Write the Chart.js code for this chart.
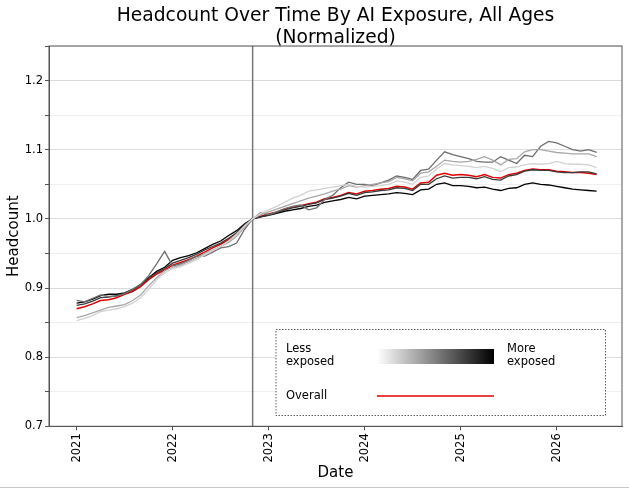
<!DOCTYPE html>
<html>
<head>
<meta charset="utf-8">
<script src="https://cdn.jsdelivr.net/npm/chart.js@4"></script>
<style>
  html, body { margin: 0; padding: 0; background: #fff; }
  #wrap { width: 629px; height: 488px; position: relative; }
  #edge { position: absolute; left: 0; bottom: 0; width: 629px; height: 1px; background: #c8c8c8; }
</style>
</head>
<body>
<div id="wrap">
  <canvas id="grafico" width="629" height="488"></canvas>
  <div id="edge"></div>
</div>
<script>
// meses de 2021-01 a 2026-06, em anos decimais
const inicio = 2021;
const numMeses = 66;
const meses = Array.from({length: numMeses}, (_, i) => inicio + i / 12);
const anosTicks = [2021, 2022, 2023, 2024, 2025, 2026];
const marcoChatGPT = 2021 + 22 / 12; // nov 2022

// do menos exposto ao mais exposto
const expostoQ1 = [0.853,0.856,0.860,0.866,0.868,0.870,0.873,0.878,0.886,0.898,0.912,0.922,
  0.928,0.931,0.936,0.941,0.948,0.954,0.960,0.968,0.978,0.990,
  1.000,1.008,1.013,1.018,1.024,1.030,1.034,1.040,1.042,1.044,1.046,1.048,1.050,1.047,
  1.046,1.047,1.048,1.050,1.055,1.053,1.050,1.060,1.062,1.072,1.080,1.078,
  1.077,1.076,1.074,1.076,1.073,1.068,1.074,1.075,1.078,1.080,1.079,1.080,
  1.083,1.080,1.079,1.079,1.078,1.074];
const expostoQ2 = [0.857,0.860,0.864,0.868,0.872,0.874,0.876,0.882,0.890,0.903,0.915,0.925,
  0.930,0.933,0.938,0.943,0.950,0.955,0.960,0.966,0.975,0.988,
  1.000,1.006,1.010,1.014,1.018,1.022,1.026,1.030,1.033,1.036,1.040,1.043,1.048,1.046,
  1.048,1.050,1.052,1.054,1.060,1.058,1.055,1.066,1.068,1.076,1.085,1.083,
  1.082,1.083,1.086,1.090,1.085,1.078,1.086,1.087,1.097,1.100,1.100,1.098,
  1.096,1.095,1.094,1.094,1.094,1.090];
const expostoQ3 = [0.882,0.880,0.885,0.890,0.888,0.888,0.892,0.898,0.905,0.918,0.935,0.953,
  0.932,0.935,0.940,0.946,0.946,0.952,0.958,0.960,0.965,0.985,
  1.000,1.009,1.006,1.010,1.015,1.018,1.020,1.013,1.016,1.028,1.034,1.045,1.053,1.050,
  1.050,1.048,1.052,1.056,1.062,1.060,1.057,1.070,1.072,1.085,1.097,1.093,
  1.090,1.087,1.083,1.082,1.082,1.090,1.085,1.080,1.092,1.090,1.105,1.112,
  1.110,1.105,1.100,1.098,1.100,1.096];
const expostoQ4 = [0.875,0.877,0.881,0.886,0.887,0.889,0.892,0.897,0.904,0.914,0.922,0.928,
  0.936,0.940,0.944,0.949,0.955,0.960,0.965,0.972,0.980,0.992,
  1.000,1.003,1.006,1.009,1.013,1.016,1.018,1.021,1.023,1.028,1.030,1.033,1.037,1.034,
  1.038,1.039,1.041,1.042,1.045,1.044,1.041,1.050,1.050,1.058,1.062,1.059,
  1.060,1.060,1.058,1.061,1.057,1.056,1.062,1.064,1.069,1.071,1.070,1.070,
  1.068,1.067,1.067,1.068,1.068,1.065];
const expostoQ5 = [0.878,0.880,0.884,0.889,0.891,0.891,0.893,0.898,0.905,0.915,0.924,0.930,
  0.940,0.944,0.947,0.951,0.957,0.963,0.968,0.976,0.983,0.993,
  1.000,1.003,1.005,1.008,1.011,1.013,1.015,1.018,1.020,1.024,1.026,1.028,1.031,1.029,
  1.033,1.034,1.035,1.036,1.038,1.037,1.035,1.042,1.043,1.050,1.052,1.048,
  1.048,1.047,1.045,1.046,1.043,1.041,1.044,1.045,1.050,1.052,1.050,1.049,
  1.047,1.045,1.043,1.042,1.041,1.040];
const geral = [0.870,0.873,0.877,0.882,0.883,0.886,0.891,0.895,0.902,0.912,0.920,0.926,
  0.933,0.937,0.941,0.946,0.952,0.958,0.963,0.970,0.979,0.991,
  1.000,1.004,1.007,1.010,1.014,1.017,1.019,1.022,1.024,1.029,1.031,1.034,1.038,1.036,
  1.040,1.041,1.043,1.044,1.047,1.046,1.043,1.052,1.053,1.063,1.066,1.063,
  1.064,1.063,1.061,1.064,1.060,1.059,1.064,1.066,1.070,1.072,1.071,1.071,
  1.069,1.068,1.067,1.067,1.066,1.064];

const series = [expostoQ1, expostoQ2, expostoQ3, expostoQ4, expostoQ5];
const coresCinza = ['#d2d2d2', '#a8a8a8', '#6e6e6e', '#3a3a3a', '#000000'];

const FONTE = 'DejaVu Sans';

const datasets = series.map((s, k) => ({
    data: s.map((v, i) => ({x: meses[i], y: v})),
    borderColor: coresCinza[k],
    borderWidth: 1.3,
    pointRadius: 0,
    tension: 0,
    fill: false
}));
datasets.push({
    data: geral.map((v, i) => ({x: meses[i], y: v})),
    borderColor: '#e00000',
    borderWidth: 1.5,
    pointRadius: 0,
    tension: 0,
    fill: false
});

// moldura, linha vertical, titulo e legenda
const extras = {
    id: 'extras',
    beforeDatasetsDraw(chart) {
        const {ctx, chartArea: a, scales: {x}} = chart;
        const px = x.getPixelForValue(marcoChatGPT);
        ctx.save();
        ctx.strokeStyle = '#777';
        ctx.lineWidth = 1.5;
        ctx.beginPath();
        ctx.moveTo(px, a.top);
        ctx.lineTo(px, a.bottom);
        ctx.stroke();
        ctx.restore();
    },
    afterDraw(chart) {
        const {ctx, chartArea: a} = chart;
        ctx.save();
        ctx.strokeStyle = '#555';
        ctx.lineWidth = 1;
        ctx.strokeRect(a.left, a.top, a.right - a.left, a.bottom - a.top);

        const cx = (a.left + a.right) / 2;
        ctx.fillStyle = '#000';
        ctx.font = '18.7px "' + FONTE + '"';
        ctx.textAlign = 'center';
        ctx.textBaseline = 'alphabetic';
        ctx.fillText('Headcount Over Time By AI Exposure, All Ages', cx, 21);
        ctx.fillText('(Normalized)', cx, 43);

        // legenda
        ctx.fillStyle = '#fff';
        ctx.fillRect(276, 329.5, 329.5, 86);
        ctx.setLineDash([1.5, 1.5]);
        ctx.strokeStyle = '#333';
        ctx.lineWidth = 0.8;
        ctx.strokeRect(276, 329.5, 329.5, 86);
        ctx.setLineDash([]);

        ctx.fillStyle = '#000';
        ctx.font = '11.5px "' + FONTE + '"';
        ctx.textAlign = 'left';
        ctx.textBaseline = 'middle';
        ctx.fillText('Less', 286, 349);
        ctx.fillText('exposed', 286, 362);
        ctx.fillText('More', 507, 349);
        ctx.fillText('exposed', 507, 362);
        ctx.fillText('Overall', 286, 396);

        const g = ctx.createLinearGradient(377, 0, 494, 0);
        g.addColorStop(0, '#ffffff');
        g.addColorStop(1, '#000000');
        ctx.fillStyle = g;
        ctx.fillRect(377, 349, 117, 15);

        ctx.strokeStyle = '#e00000';
        ctx.lineWidth = 1.5;
        ctx.beginPath();
        ctx.moveTo(377, 396);
        ctx.lineTo(494, 396);
        ctx.stroke();
        ctx.restore();
    }
};

const ehMaior = v => Math.abs(v * 10 - Math.round(v * 10)) < 1e-6;

new Chart(document.getElementById('grafico'), {
    type: 'line',
    data: {datasets: datasets},
    options: {
        responsive: false,
        animation: false,
        events: [],
        layout: {padding: {top: 46, right: 7, left: 0, bottom: 0}},
        plugins: {
            legend: {display: false},
            tooltip: {enabled: false},
            title: {display: false}
        },
        scales: {
            x: {
                type: 'linear',
                min: 2020.712,
                max: 2026.681,
                afterBuildTicks: s => { s.ticks = anosTicks.map(v => ({value: v})); },
                afterFit: s => { s.height = 61.7; },
                grid: {drawOnChartArea: false, drawTicks: true, tickLength: 4, tickColor: '#555'},
                border: {display: true, color: '#555'},
                ticks: {
                    minRotation: 90,
                    maxRotation: 90,
                    padding: 3,
                    color: '#000',
                    font: {family: FONTE, size: 11.5},
                    callback: v => String(v)
                },
                title: {
                    display: true,
                    text: 'Date',
                    color: '#000',
                    font: {family: FONTE, size: 15},
                    padding: {top: 2, bottom: 6}
                }
            },
            y: {
                min: 0.7,
                max: 1.25,
                afterBuildTicks: s => {
                    const t = [];
                    for (let k = 0; k <= 11; k++) t.push({value: Math.round((0.7 + k * 0.05) * 100) / 100});
                    s.ticks = t;
                },
                afterFit: s => { s.width = 49; },
                grid: {
                    color: c => (c.tick && ehMaior(c.tick.value)) ? '#dcdcdc' : '#efefef',
                    tickColor: '#555',
                    tickLength: 4,
                    lineWidth: 1
                },
                border: {display: true, color: '#555'},
                ticks: {
                    padding: 2,
                    color: '#000',
                    font: {family: FONTE, size: 11.5},
                    callback: v => ehMaior(v) ? v.toFixed(1) : ''
                },
                title: {
                    display: true,
                    text: 'Headcount',
                    color: '#000',
                    font: {family: FONTE, size: 15},
                    padding: {top: 5, bottom: 2}
                }
            }
        }
    },
    plugins: [extras]
});
</script>
</body>
</html>
